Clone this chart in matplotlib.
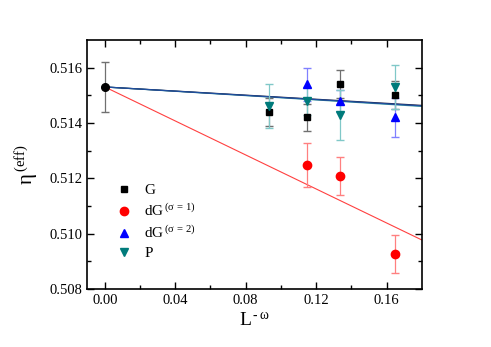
import numpy as np
import matplotlib
matplotlib.use("Agg")
import matplotlib.pyplot as plt
from matplotlib.lines import Line2D

plt.rcParams['font.family'] = ['Liberation Serif', 'DejaVu Serif']
plt.rcParams['mathtext.fontset'] = 'custom'
plt.rcParams['mathtext.rm'] = 'Liberation Serif'
plt.rcParams['mathtext.it'] = 'Liberation Serif'

# valeurs
x = [0.0931, 0.1149, 0.1333, 0.165]

g = [0.5144, 0.5142, 0.5154, 0.5150]
g_err = [0.0005, 0.0005, 0.0005, 0.0005]

dg1 = [0.51248, 0.51208, 0.50927]
dg1_err = [0.0008, 0.0007, 0.0007]
x_dg1 = [0.1149, 0.1333, 0.165]

dg2 = [0.5154, 0.5148, 0.5142]
dg2_err = [0.0006, 0.0004, 0.0007]
x_dg2 = [0.1149, 0.1333, 0.165]

p = [0.5146, 0.5148, 0.5143, 0.5153]
p_err = [0.0008, 0.0005, 0.0009, 0.0008]

# point extrapole a L -> infini
x0 = 0.0
y0 = 0.5153
y0_err = 0.0009

# droites d'ajustement (ordonnee, pente)
fit_g = (0.5153, -0.0037)
fit_dg2 = (0.5153, -0.0038)
fit_p = (0.5153, -0.0039)
fit_dg1 = (0.5153, -0.0307)

fig = plt.figure(figsize=(4.91, 3.47), dpi=100)
ax = fig.add_axes([0.177, 0.167, 0.682, 0.718])

xx = np.array([0.0, 0.18])
ax.plot(xx, fit_dg1[0] + fit_dg1[1] * xx, color='#ff4040', lw=0.8)
ax.plot(xx, fit_p[0] + fit_p[1] * xx, color='#40a0a0', lw=0.9)
ax.plot(xx, fit_g[0] + fit_g[1] * xx, color='#202040', lw=0.9)
ax.plot(xx, fit_dg2[0] + fit_dg2[1] * xx, color='#2050a0', lw=0.9)

ax.errorbar(x, g, yerr=g_err, fmt='s', color='black', ms=5, ecolor='#707070',
            elinewidth=0.9, capsize=3)
ax.errorbar(x_dg1, dg1, yerr=dg1_err, fmt='o', color='red', ms=6, ecolor='#ff8080',
            elinewidth=0.9, capsize=3)
ax.errorbar(x_dg2, dg2, yerr=dg2_err, fmt='^', color='blue', ms=6, ecolor='#8080ff',
            elinewidth=0.9, capsize=3)
ax.errorbar(x, p, yerr=p_err, fmt='v', color='#007b7b', ms=6, ecolor='#80c8c8',
            elinewidth=0.9, capsize=3)
ax.errorbar([x0], [y0], yerr=[y0_err], fmt='o', color='black', ms=5.5, ecolor='#707070',
            elinewidth=0.9, capsize=3)

ax.set_xlim(-0.0102, 0.18)
ax.set_ylim(0.508, 0.517)
ax.set_xticks([0.0, 0.04, 0.08, 0.12, 0.16])
ax.set_xticks([0.02, 0.06, 0.10, 0.14], minor=True)
ax.set_yticks([0.508, 0.510, 0.512, 0.514, 0.516])
ax.set_yticks([0.509, 0.511, 0.513, 0.515], minor=True)
ax.xaxis.set_major_formatter(matplotlib.ticker.FormatStrFormatter('%.2f'))
ax.yaxis.set_major_formatter(matplotlib.ticker.FormatStrFormatter('%.3f'))
ax.tick_params(which='both', direction='in', top=True, right=True, labelsize=10.5, width=1)
ax.tick_params(which='major', length=5)
ax.tick_params(which='minor', length=3)
for s in ax.spines.values():
    s.set_linewidth(1.2)

ax.set_xlabel(r'L$^{\,\text{-}\,\omega}$', fontsize=14, labelpad=4)
ax.set_ylabel(r'$\eta^{\,\mathrm{(eff)}}$', fontsize=15, labelpad=6)

handles = [
    Line2D([], [], ls='none', marker='s', color='black', ms=5),
    Line2D([], [], ls='none', marker='o', color='red', ms=6),
    Line2D([], [], ls='none', marker='^', color='blue', ms=6),
    Line2D([], [], ls='none', marker='v', color='#007b7b', ms=6),
]
labels = ['G', r'dG$^{\,(\sigma\,=\,1)}$', r'dG$^{\,(\sigma\,=\,2)}$', 'P']
ax.legend(handles, labels, loc='lower left', bbox_to_anchor=(0.035, 0.06), frameon=False,
          fontsize=11, handletextpad=0.6, labelspacing=0.35, handlelength=1.5)

fig.savefig('out.png', dpi=100)
